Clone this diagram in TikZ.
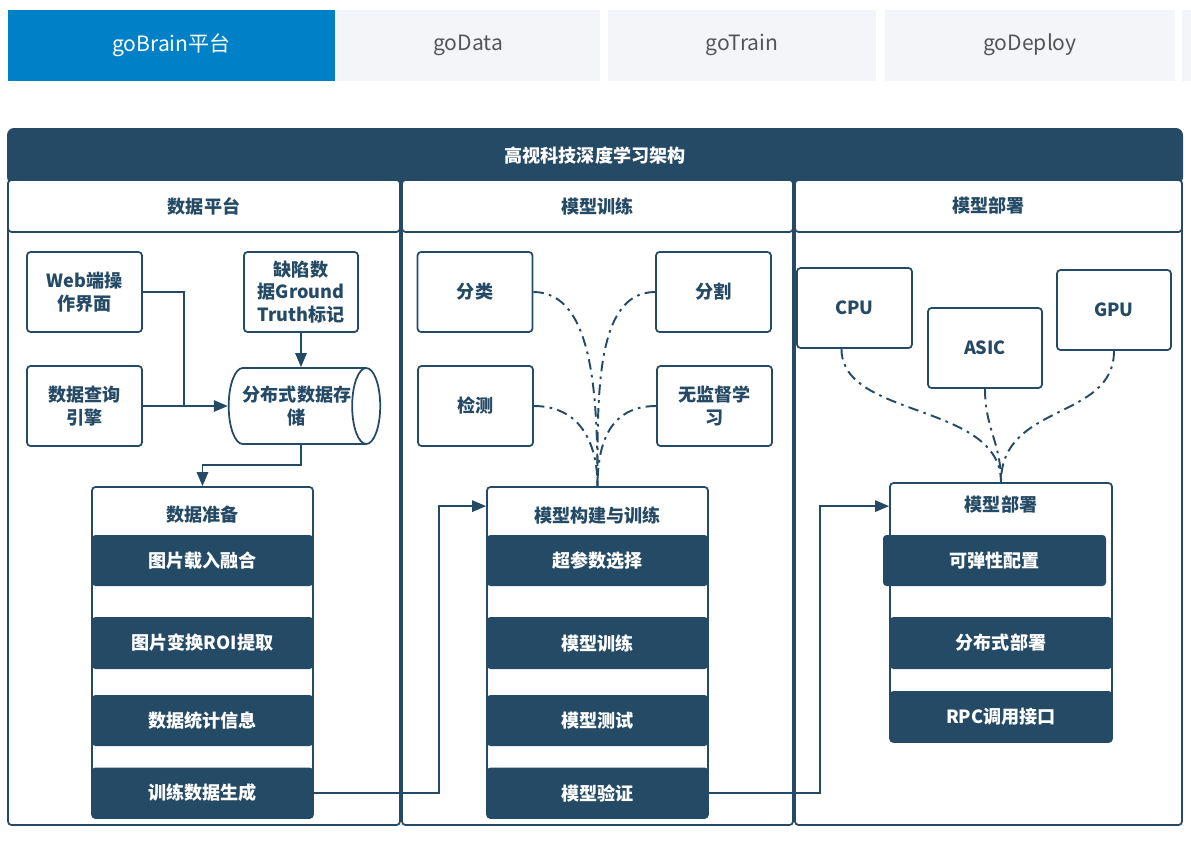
\documentclass[tikz,border=0pt]{standalone}
\usepackage{fontspec}
\setmainfont{Noto Sans CJK SC}
\usetikzlibrary{positioning,shapes.geometric,arrows.meta,calc}
\definecolor{navy}{HTML}{254A65}
\definecolor{tabblue}{HTML}{0080C6}
\definecolor{tabgray}{HTML}{F4F5F9}
\definecolor{tabtext}{HTML}{555555}

\begin{document}
\begin{tikzpicture}[x=0.02cm,y=-0.02cm,
    sz/.style 2 args={minimum width=#1*0.02cm,minimum height=#2*0.02cm,inner sep=0pt},
    lbl/.style={font=\fontsize{10.3}{13}\selectfont\bfseries,text=navy,align=center},
    box/.style={draw=navy,line width=1pt,rounded corners=2pt,fill=white,lbl},
    bar/.style={fill=navy,rounded corners=2pt,font=\fontsize{10.3}{13}\selectfont\bfseries,text=white},
    tab/.style={fill=tabgray,font=\fontsize{12}{14}\selectfont,text=tabtext},
    arr/.style={draw=navy,line width=1pt,-{Triangle[length=8pt,width=6.5pt]}},
    link/.style={draw=navy,line width=1.1pt,dash pattern=on 6pt off 3pt on 1.5pt off 3pt}]
    \useasboundingbox[fill=white] (0,0) rectangle (1191,840);

    % tabs
    \node[tab,fill=tabblue,text=white,sz={327}{71}] (tbrain) at (171.5,45) {goBrain平台};
    \node[tab,sz={264}{71}] (tdata) at (468,45) {goData};
    \node[tab,sz={268}{71}] (ttrain) at (742,45) {goTrain};
    \node[tab,sz={290}{71}] (tdeploy) at (1030,45) {goDeploy};
    \node[tab,sz={12}{71},anchor=west] (tmore) at (1182,45) {};

    % frame
    \node[fill=navy,rounded corners=4pt,sz={1176}{56},text=white,font=\fontsize{10.3}{13}\selectfont\bfseries] (title) at (595,156) {高视科技深度学习架构};
    \node[box,sz={392}{645}] (col1) at (204,502.5) {};
    \node[box,sz={391}{645}] (col2) at (597.5,502.5) {};
    \node[box,sz={387}{645}] (col3) at (988.5,502.5) {};
    \node[box,sz={392}{52},anchor=north] (h1) at (col1.north) {数据平台};
    \node[box,sz={391}{52},anchor=north] (h2) at (col2.north) {模型训练};
    \node[box,sz={387}{52},anchor=north] (h3) at (col3.north) {模型部署};

    % data platform
    \node[box,sz={115}{80}] (web) at (84.5,292) {Web端操\\作界面};
    \node[box,sz={115}{80}] (query) at (84.5,406) {数据查询\\引擎};
    \node[box,sz={114}{80}] (gt) at (301,292) {缺陷数\\据Ground\\Truth标记};
    \node[cylinder,draw=navy,line width=1pt,fill=white,lbl,shape aspect=0.7,sz={76}{147}] (store) at (297,406) {分布式数据存\\储};

    \node[box,sz={221}{331}] (prep) at (202.5,652.5) {};
    \node[lbl] (prepttl) at (202.5,515) {数据准备};
    \node[bar,sz={221}{51}] (load) at (202.5,560.5) {图片载入融合};
    \node[bar,sz={221}{52}] (roi) at (202.5,643) {图片变换ROI提取};
    \node[bar,sz={221}{51}] (stat) at (202.5,720.5) {数据统计信息};
    \node[bar,sz={221}{51}] (gen) at (202.5,793) {训练数据生成};

    \coordinate (join) at (184,406);
    \draw[navy,line width=1pt] (web.east) -| (join);
    \draw[arr] (query.east) -- (store.west);
    \draw[arr] (gt.south) -- (gt.south |- store.north);
    \draw[arr] (gt.south |- store.south) -- ++(0,20) -| (prep.north);

    % model training
    \node[box,sz={115}{80}] (cls) at (475,292) {分类};
    \node[box,sz={115}{80}] (seg) at (713.5,292) {分割};
    \node[box,sz={115}{80}] (det) at (475.5,406) {检测};
    \node[box,sz={115}{80}] (unsup) at (714.5,406) {无监督学\\习};

    \node[box,sz={221}{331}] (build) at (597.5,652.5) {};
    \node[lbl] (buildttl) at (597.5,515) {模型构建与训练};
    \node[bar,sz={221}{51}] (hyper) at (597.5,560.5) {超参数选择};
    \node[bar,sz={221}{52}] (train) at (597.5,643) {模型训练};
    \node[bar,sz={221}{51}] (test) at (597.5,720.5) {模型测试};
    \node[bar,sz={221}{51}] (valid) at (597.5,793) {模型验证};

    \draw[link] (cls.east) .. controls +(60,0) and +(0,-90) .. (build.north);
    \draw[link] (seg.west) .. controls +(-60,0) and +(0,-90) .. (build.north);
    \draw[link] (det.east) .. controls +(45,0) and +(0,-45) .. (build.north);
    \draw[link] (unsup.west) .. controls +(-45,0) and +(0,-45) .. (build.north);
    \draw[arr] (gen.east) -- ++(126,0) |- ($(build.north west)+(0,20)$);

    % model deployment
    \node[box,sz={115}{80}] (cpu) at (854.5,308) {CPU};
    \node[box,sz={114}{80}] (asic) at (985,348) {ASIC};
    \node[box,sz={114}{80}] (gpu) at (1114,310) {GPU};

    \node[box,sz={222}{259}] (deploy) at (1001,612.5) {};
    \node[lbl] (deployttl) at (1001,505) {模型部署};
    \node[bar,sz={223}{51}] (elastic) at (994.5,560.5) {可弹性配置};
    \node[bar,sz={222}{52}] (dist) at (1001,643) {分布式部署};
    \node[bar,sz={222}{51}] (rpc) at (1001,716.5) {RPC调用接口};

    \draw[link] ($(cpu.south)+(-13,0)$) .. controls +(0,70) and +(0,-80) .. (deploy.north);
    \draw[link] (asic.south) .. controls +(0,40) and +(0,-40) .. (deploy.north);
    \draw[link] (gpu.south) .. controls +(0,70) and +(0,-80) .. (deploy.north);
    \draw[arr] (valid.east) -- ++(112,0) |- ($(deploy.north west)+(0,24)$);
\end{tikzpicture}
\end{document}
